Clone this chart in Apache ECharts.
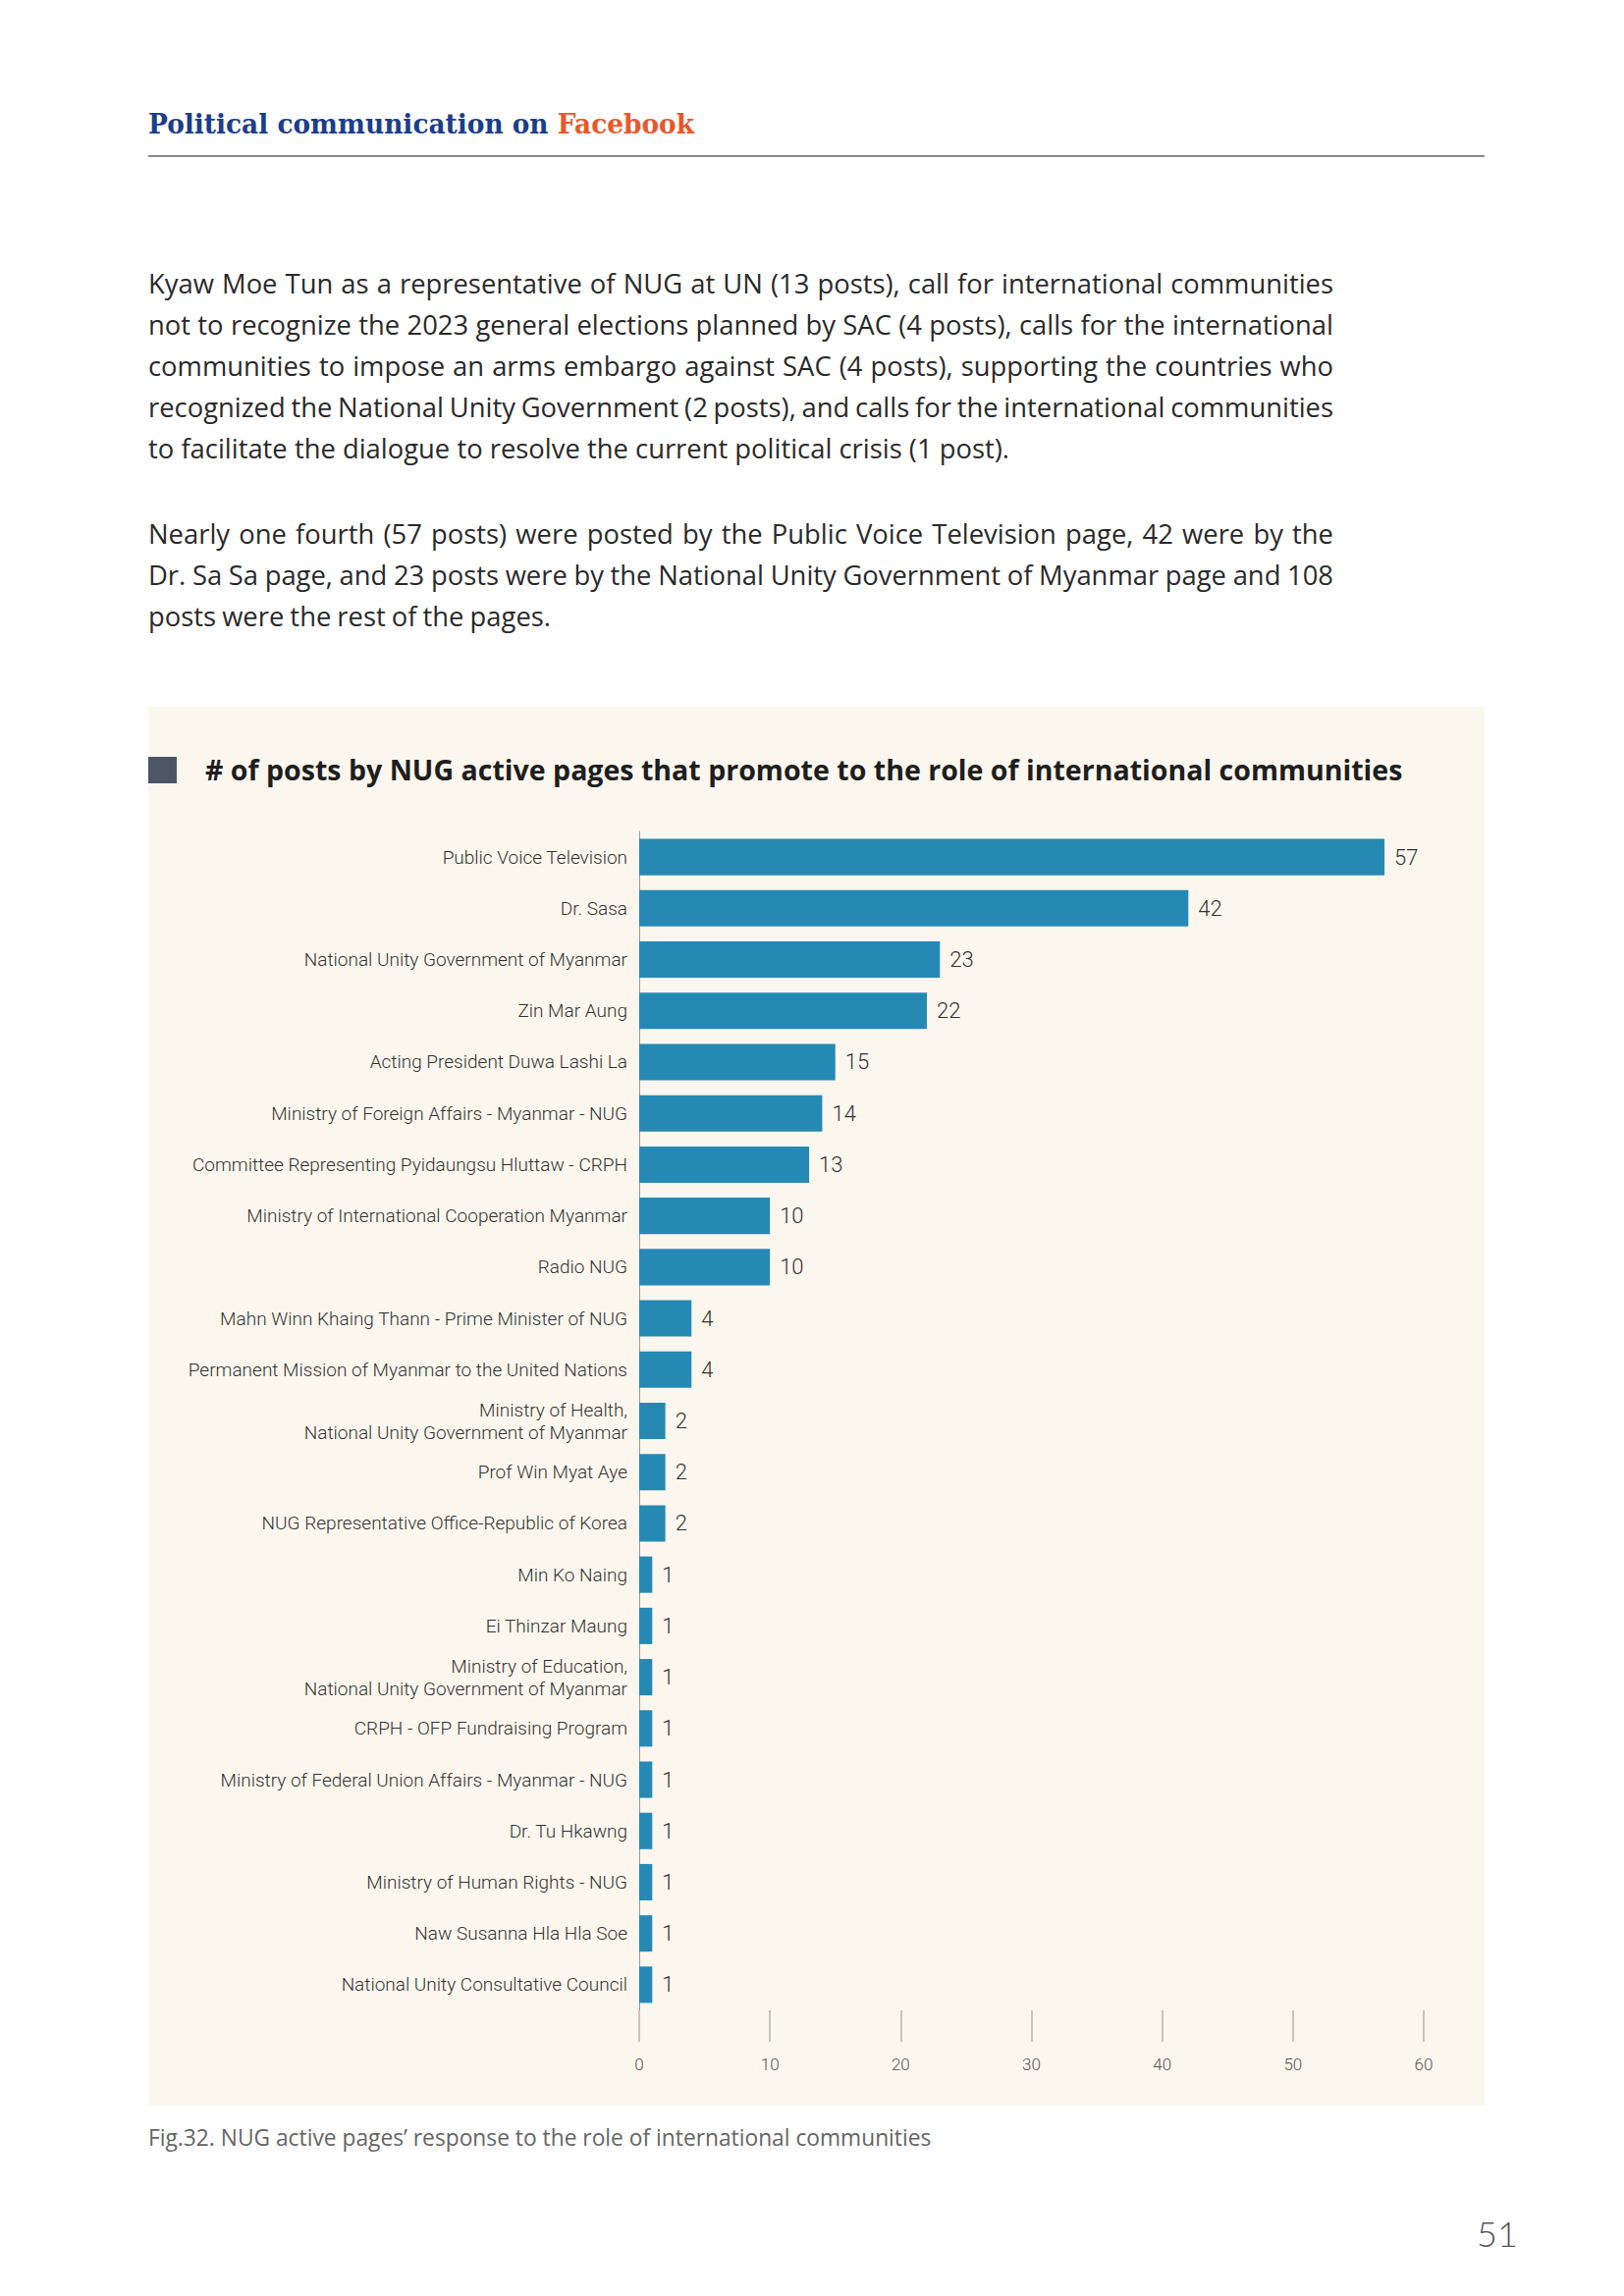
<!DOCTYPE html>
<html>
<head>
<meta charset="utf-8">
<script src="https://cdn.jsdelivr.net/npm/echarts@6/dist/echarts.min.js"></script>
<style>
  html, body { margin: 0; padding: 0; background: #ffffff; }
  #page { position: relative; width: 1654px; height: 2339px; overflow: hidden; background: #fff; }
  .abs { position: absolute; white-space: nowrap; }
  #header { left: 151px; top: 112px; font-family: "DejaVu Serif", serif; font-weight: bold; font-size: 28px; line-height: 30px; color: #1B3E8C; transform-origin: 0 50%; }
  #header span { color: #E8582B; }
  #rule { left: 151px; top: 158px; width: 1361px; height: 2px; background: #8a8a8a; }
  .para { left: 151px; font-family: "Open Sans", sans-serif; font-size: 24px; line-height: 42px; color: #2a2a2a; }
  .para div { white-space: nowrap; height: 42px; }
  #chart { left: 151px; top: 720px; width: 1361px; height: 1425px; background: #FBF7EE; }
  #caption { left: 151px; top: 2165px; font-family: "Open Sans", sans-serif; font-size: 20px; line-height: 26px; color: #666; }
  #pagenum { left: 1504px; top: 2255px; font-family: "Lato", sans-serif; font-weight: 300; font-size: 36px; line-height: 40px; color: #555; }
</style>
</head>
<body>
<div id="page">
  <div id="header" class="abs">Political communication on <span>Facebook</span></div>
  <div id="rule" class="abs"></div>
  <div class="abs para" style="top:268px;">
    <div data-w="1207">Kyaw Moe Tun as a representative of NUG at UN (13 posts), call for international communities</div>
    <div data-w="1207">not to recognize the 2023 general elections planned by SAC (4 posts), calls for the international</div>
    <div data-w="1207">communities to impose an arms embargo against SAC (4 posts), supporting the countries who</div>
    <div data-w="1207">recognized the National Unity Government (2 posts), and calls for the international communities</div>
    <div data-w="877" id="refline">to facilitate the dialogue to resolve the current political crisis (1 post).</div>
  </div>
  <div class="abs para" style="top:523px;">
    <div data-w="1207">Nearly one fourth (57 posts) were posted by the Public Voice Television page, 42 were by the</div>
    <div data-w="1207">Dr. Sa Sa page, and 23 posts were by the National Unity Government of Myanmar page and 108</div>
    <div data-w="410">posts were the rest of the pages.</div>
  </div>
  <div id="chart" class="abs"></div>
  <div id="caption" class="abs">Fig.32. NUG active pages’ response to the role of international communities</div>
  <div id="pagenum" class="abs">51</div>
</div>
<script>
const chartTitle = "# of posts by NUG active pages that promote to the role of international communities";
const categories = [
  "Public Voice Television",
  "Dr. Sasa",
  "National Unity Government of Myanmar",
  "Zin Mar Aung",
  "Acting President Duwa Lashi La",
  "Ministry of Foreign Affairs - Myanmar - NUG",
  "Committee Representing Pyidaungsu Hluttaw - CRPH",
  "Ministry of International Cooperation Myanmar",
  "Radio NUG",
  "Mahn Winn Khaing Thann - Prime Minister of NUG",
  "Permanent Mission of Myanmar to the United Nations",
  "Ministry of Health,\nNational Unity Government of Myanmar",
  "Prof Win Myat Aye",
  "NUG Representative Office-Republic of Korea",
  "Min Ko Naing",
  "Ei Thinzar Maung",
  "Ministry of Education,\nNational Unity Government of Myanmar",
  "CRPH - OFP Fundraising Program",
  "Ministry of Federal Union Affairs - Myanmar - NUG",
  "Dr. Tu Hkawng",
  "Ministry of Human Rights - NUG",
  "Naw Susanna Hla Hla Soe",
  "National Unity Consultative Council"
];
const posts = [57, 42, 23, 22, 15, 14, 13, 10, 10, 4, 4, 2, 2, 2, 1, 1, 1, 1, 1, 1, 1, 1, 1];
const axisMin = 0, axisMax = 60, axisStep = 10;

// ---- text fitting helpers (page text) ----
function naturalWidth(el) {
  const r = document.createRange(); r.selectNodeContents(el);
  return r.getBoundingClientRect().width;
}
(function () {
  const h = document.getElementById('header');
  const w = naturalWidth(h);
  h.style.transform = 'scaleX(' + (556 / w) + ')';
})();
(function () {
  const ref = document.getElementById('refline');
  const base = 24;
  const size = base * 877 / naturalWidth(ref);
  document.querySelectorAll('.para').forEach(p => p.style.fontSize = size + 'px');
  document.querySelectorAll('.para div').forEach(d => {
    const target = +d.dataset.w;
    const w = naturalWidth(d);
    const spaces = (d.textContent.match(/ /g) || []).length;
    if (spaces) d.style.wordSpacing = ((target - w) / spaces) + 'px';
  });
})();
(function () {
  const c = document.getElementById('caption');
  const w = naturalWidth(c);
  c.style.fontSize = (20 * 798 / w) + 'px';
})();

const ctx = document.createElement('canvas').getContext('2d');
ctx.font = 'bold 26px "Open Sans"';
const titleSize = 26 * 1220 / ctx.measureText(chartTitle).width;

const chart = echarts.init(document.getElementById('chart'), null, { renderer: 'svg' });
chart.setOption({
  animation: false,
  backgroundColor: '#FBF7EE',
  title: {
    text: chartTitle,
    left: 53, top: 58, textVerticalAlign: 'middle',
    textStyle: { fontFamily: 'Open Sans', fontWeight: 'bold', fontSize: titleSize, color: '#1e1e1e' }
  },
  graphic: [{
    type: 'rect', left: 0, top: 51, shape: { width: 29, height: 27 },
    style: { fill: '#4B5665' }
  }],
  grid: { left: 500, right: 62, top: 127, bottom: 97, containLabel: false },
  xAxis: {
    type: 'value', min: axisMin, max: axisMax, interval: axisStep,
    axisLine: { show: false },
    splitLine: { show: false },
    axisTick: { show: true, length: 32, lineStyle: { color: '#b5b5b5', width: 1.5 } },
    axisLabel: { margin: 46, fontFamily: 'Roboto', fontWeight: 300, fontSize: 17, color: '#555' }
  },
  yAxis: {
    type: 'category', data: categories, inverse: true,
    axisLine: { show: true, lineStyle: { color: '#9a9a9a', width: 1 } },
    axisTick: { show: false },
    axisLabel: { margin: 12, fontFamily: 'Roboto', fontWeight: 300, fontSize: 19, lineHeight: 23, color: '#333', align: 'right' }
  },
  series: [{
    type: 'bar', data: posts, barCategoryGap: '29%',
    itemStyle: { color: '#2689B4' },
    label: { show: true, position: 'right', distance: 10, fontFamily: 'Roboto', fontWeight: 300, fontSize: 22, color: '#333' }
  }]
});
</script>
</body>
</html>
